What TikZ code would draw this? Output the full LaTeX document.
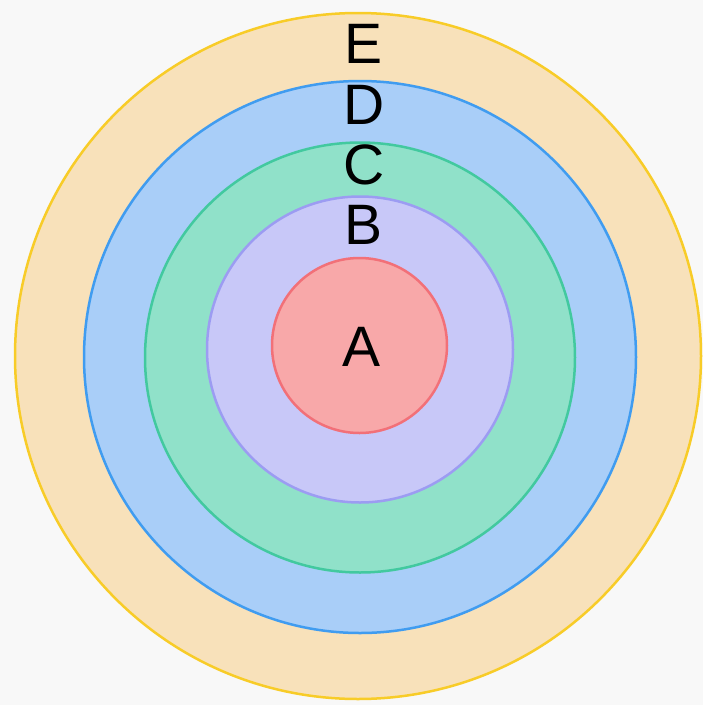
\documentclass[tikz,border=0pt]{standalone}
\usepackage{fontspec}
\setmainfont{Liberation Sans}
\definecolor{bg}{HTML}{F8F8F8}
\definecolor{efill}{HTML}{F8E1BA}
\definecolor{edraw}{HTML}{F8CC28}
\definecolor{dfill}{HTML}{A9CEF8}
\definecolor{ddraw}{HTML}{409CF0}
\definecolor{cfill}{HTML}{90E1C9}
\definecolor{cdraw}{HTML}{42C99F}
\definecolor{bfill}{HTML}{C8C8F8}
\definecolor{bdraw}{HTML}{9C9CF2}
\definecolor{afill}{HTML}{F8A8A9}
\definecolor{adraw}{HTML}{F27078}
\tikzset{
  ring/.style={circle, line width=2.5pt, inner sep=0pt, outer sep=0pt},
  lbl/.style={inner sep=0pt, text height=41pt, text depth=0pt, font=\fontsize{57}{60}\selectfont, text=black}
}
\begin{document}
\begin{tikzpicture}[x=1pt,y=-1pt]
\fill[bg] (0,0) rectangle (703,705);
\useasboundingbox (0,0) rectangle (703,705);
\node[ring, draw=edraw, fill=efill, minimum size=686pt] (E) at (358,356) {};
\node[ring, draw=ddraw, fill=dfill, minimum size=552pt] (D) at (360,357) {};
\node[ring, draw=cdraw, fill=cfill, minimum size=430pt] (C) at (360,357.5) {};
\node[ring, draw=bdraw, fill=bfill, minimum size=306pt] (B) at (360,349.5) {};
\node[ring, draw=adraw, fill=afill, minimum size=175pt] (A) at (359.5,345.5) {};
\node[lbl] (lE) at (364,43) {E};
\node[lbl] (lD) at (364,104) {D};
\node[lbl] (lC) at (364,164) {C};
\node[lbl] (lB) at (364,224) {B};
\node[lbl] (lA) at (362,346) {A};
\end{tikzpicture}
\end{document}
